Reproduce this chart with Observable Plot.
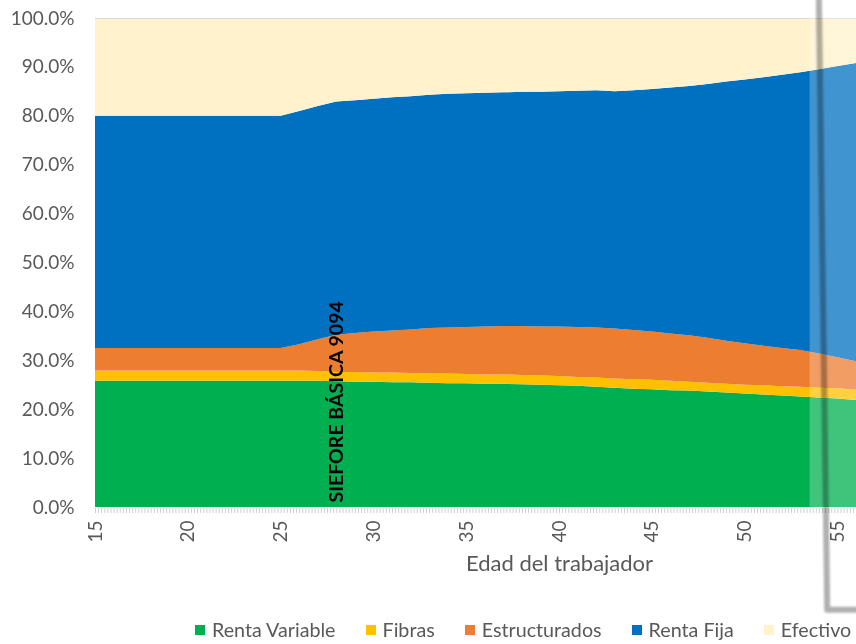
<!DOCTYPE html>
<html>
<head>
<meta charset="utf-8">
<script src="https://cdn.jsdelivr.net/npm/d3@7"></script>
<script src="https://cdn.jsdelivr.net/npm/@observablehq/plot@0.6"></script>
<style>
  html, body { margin: 0; padding: 0; background: #fff; overflow: hidden; }
  #chart svg { display: block; }
  #legend { display: flex; align-items: center; height: 32px; padding-left: 195px; padding-top: 3px; white-space: nowrap;
            font-family: Lato, "Open Sans", sans-serif; font-size: 19.7px; color: #595959; overflow: hidden; width: 856px; box-sizing: border-box; }
  #legend .item { display: flex; align-items: center; margin-right: 30px; }
  #legend .sw { width: 10px; height: 10px; margin-right: 7px; }
</style>
</head>
<body>
<div id="chart"></div>
<div id="legend"></div>
<script>
// ---- data (percent of portfolio by worker age) ----
const ages = [15,16,17,18,19,20,21,22,23,24,25,26,27,28,29,30,31,32,33,34,35,36,37,38,39,40,41,42,43,44,45,46,47,48,49,50,51,52,53,54,55,56];
const rentaVariable = [25.8,25.8,25.8,25.8,25.8,25.8,25.8,25.8,25.8,25.8,25.8,25.8,25.8,25.7,25.6,25.6,25.5,25.5,25.4,25.3,25.3,25.2,25.2,25.1,25.0,24.9,24.8,24.6,24.4,24.2,24.1,23.9,23.8,23.6,23.4,23.2,23.0,22.8,22.6,22.4,22.2,21.9];
const fibras = [2.1,2.1,2.1,2.1,2.1,2.1,2.1,2.1,2.1,2.1,2.1,2.1,2.0,1.9,2.0,1.9,2.0,1.9,1.9,2.0,1.9,1.9,1.9,1.9,1.9,1.9,1.8,1.9,1.9,1.9,1.9,1.9,1.8,1.8,1.8,1.8,1.9,1.9,2.0,2.0,2.1,2.1];
const estructurados = [4.6,4.6,4.6,4.6,4.6,4.6,4.6,4.6,4.6,4.6,4.6,5.4,6.5,7.6,8.0,8.4,8.6,8.9,9.3,9.4,9.6,9.8,9.9,10.0,10.0,10.1,10.2,10.2,10.2,10.1,9.9,9.7,9.5,9.2,8.8,8.5,8.1,7.8,7.5,7.0,6.3,5.8];
const rentaFija = [47.5,47.5,47.5,47.5,47.5,47.5,47.5,47.5,47.5,47.5,47.5,47.7,47.7,47.7,47.6,47.6,47.7,47.7,47.7,47.8,47.8,47.8,47.8,47.9,48.0,48.1,48.3,48.5,48.5,49.0,49.6,50.3,51.0,51.9,53.0,53.9,54.9,55.9,56.8,58.1,59.6,61.0];
const efectivo = [20.0,20.0,20.0,20.0,20.0,20.0,20.0,20.0,20.0,20.0,20.0,19.0,18.0,17.1,16.8,16.5,16.2,16.0,15.7,15.5,15.4,15.3,15.2,15.1,15.1,15.0,14.9,14.8,15.0,14.8,14.5,14.2,13.9,13.5,13.0,12.6,12.1,11.6,11.1,10.5,9.8,9.2];

const seriesNames = ["Renta Variable", "Fibras", "Estructurados", "Renta Fija", "Efectivo"];
const seriesColors = ["#00B050", "#FFC000", "#ED7D31", "#0070C0", "#FFF2CC"];
const seriesValues = [rentaVariable, fibras, estructurados, rentaFija, efectivo];

const xTicks = [15,20,25,30,35,40,45,50,55];
const yTicks = [0,0.1,0.2,0.3,0.4,0.5,0.6,0.7,0.8,0.9,1.0];
const xTitle = "Edad del trabajador";
const fullAgeRange = [15, 65];          // original axis extent (chart is cropped)
const sieforeLabel = [{age: 28, text: "SIEFORE BÁSICA 9094"}];
const highlightRange = [{from: 53.5, to: 56}];
const highlightOutline = [[54.0, 1.04], [54.45, -0.21], [57, -0.21]];

// ---- build long table ----
const rows = [];
seriesNames.forEach((s, i) => {
  ages.forEach((a, j) => rows.push({series: s, age: a, value: seriesValues[i][j]}));
});
const minorTicks = d3.range(15, 56.001, 1/6);
const grey = "#595959";

const chart = Plot.plot({
  width: 856,
  height: 612,
  marginLeft: 95,
  marginRight: 0,
  marginTop: 18,
  marginBottom: 105,
  style: {fontFamily: "Lato, 'Open Sans', sans-serif", fontSize: "19px", color: grey, background: "#fff", overflow: "visible"},
  x: {domain: [15, 56]},
  y: {domain: [0, 1]},
  color: {domain: seriesNames, range: seriesColors},
  marks: [
    Plot.areaY(rows, {x: "age", y: "value", z: "series", fill: "series", offset: "normalize"}),
    Plot.ruleY([1], {stroke: "#d9d9d9"}),
    Plot.rect(highlightRange, {x1: "from", x2: "to", y1: 0, y2: 1, fill: "#fff", fillOpacity: 0.25}),
    Plot.text(sieforeLabel, {x: "age", y: 0, text: "text", rotate: -90, textAnchor: "start", dy: -5,
      fill: "#000", fontWeight: "bold", fontSize: 19.5}),
    Plot.axisY({ticks: yTicks, tickFormat: d3.format(".1%"), tickSize: 0, tickPadding: 21, fill: grey, fontSize: 19, label: null}),
    Plot.axisX({ticks: minorTicks, tickSize: 5, tickFormat: () => "", stroke: "#cfcfcf", dy: 1, label: null}),
    Plot.axisX({ticks: xTicks, tickSize: 0, tickPadding: 13, tickRotate: -90, fill: grey, fontSize: 19, label: null}),
    Plot.text([xTitle], {x: d3.mean(fullAgeRange), frameAnchor: "bottom", dy: 63, fill: grey, fontSize: 22})
  ]
});
document.getElementById("chart").appendChild(chart);

// hand-drawn style highlight outline, positioned through the chart's own scales
const sx = chart.scale("x"), sy = chart.scale("y");
const svg = d3.select(chart);
svg.append("defs").append("filter").attr("id", "softblur")
  .attr("filterUnits", "userSpaceOnUse").attr("x", 0).attr("y", 0).attr("width", 900).attr("height", 700)
  .append("feGaussianBlur").attr("stdDeviation", 1.2);
svg.append("path")
  .attr("d", d3.line()(highlightOutline.map(([a, p]) => [sx.apply(a), sy.apply(p)])))
  .attr("fill", "none")
  .attr("stroke", "#b0b0b0")
  .attr("stroke-width", 6)
  .attr("stroke-linejoin", "round")
  .attr("filter", "url(#softblur)")
  .style("mix-blend-mode", "multiply");

// ---- legend ----
const legend = d3.select("#legend");
seriesNames.forEach((s, i) => {
  const it = legend.append("div").attr("class", "item");
  it.append("div").attr("class", "sw").style("background", seriesColors[i]);
  it.append("span").text(s);
});
</script>
</body>
</html>
